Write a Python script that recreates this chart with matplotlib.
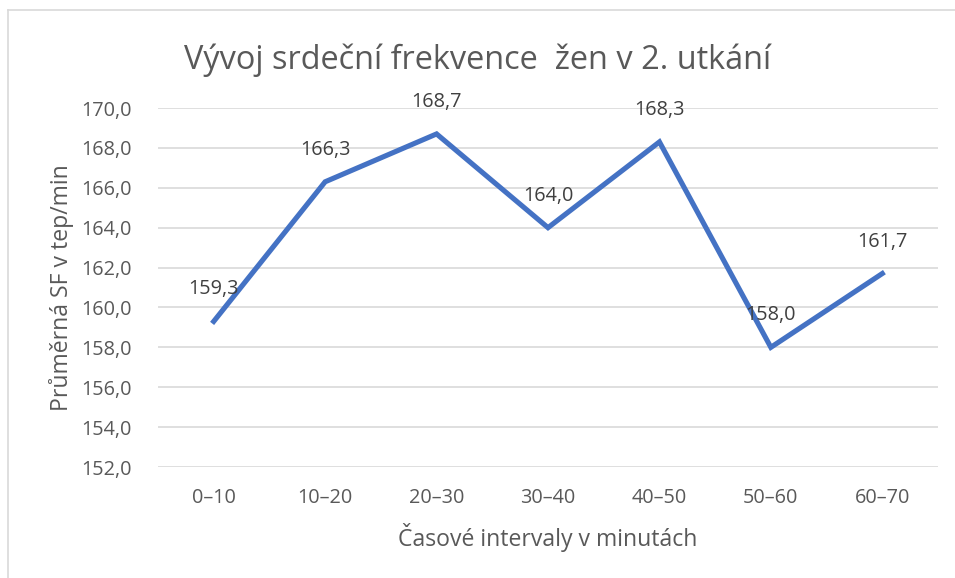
import numpy as np
import matplotlib
matplotlib.use("Agg")
from matplotlib import pyplot as plt
from matplotlib.lines import Line2D

# data
intervals = ["0–10", "10–20", "20–30", "30–40", "40–50", "50–60", "60–70"]
heartRate = [159.3, 166.3, 168.7, 164.0, 168.3, 158.0, 161.7]
yTicks = [152, 154, 156, 158, 160, 162, 164, 166, 168, 170]

plt.rcParams['font.family'] = ['Open Sans', 'DejaVu Sans']
textColor = '#595959'

fig = plt.figure(figsize=(9.55, 5.78), dpi=100)
ax = fig.add_axes([158/955, 1-467/578, (938-158)/955, (467-108)/578])

x = np.arange(len(intervals))
ax.plot(x, heartRate, color='#4472C4', linewidth=3.7, solid_joinstyle='miter', zorder=3)

for xi, v in zip(x, heartRate):
    ax.annotate(("%.1f" % v).replace('.', ','), (xi, v), xytext=(0, 32),
                textcoords='offset pixels', ha='center', va='center',
                fontsize=14.3, color='#404040', zorder=4)

ax.set_xlim(-0.5, len(intervals)-0.5)
ax.set_ylim(152, 170)
ax.set_yticks(yTicks)
ax.set_yticklabels([("%.1f" % t).replace('.', ',') for t in yTicks])
ax.set_xticks(x)
ax.set_xticklabels(intervals)
ax.tick_params(axis='both', length=0, labelsize=14.3, labelcolor=textColor)
ax.tick_params(axis='y', pad=19)
ax.tick_params(axis='x', pad=15)
ax.grid(axis='y', color='#D9D9D9', linewidth=1.2)
ax.set_axisbelow(True)
for s in ax.spines.values():
    s.set_visible(False)

ax.set_ylabel("Průměrná SF v tep/min", fontsize=16.6, color=textColor, labelpad=5)
ax.set_xlabel("Časové intervaly v minutách", fontsize=16.6, color=textColor, labelpad=11)
fig.text(0.5, 1-60/578, "Vývoj srdeční frekvence  žen v 2. utkání", ha='center', va='center',
         fontsize=23.4, color=textColor)

# chart border (left and top visible)
fig.add_artist(Line2D([7.5/955, 7.5/955], [0, 1-10/578], color='#D9D9D9', linewidth=1.2))
fig.add_artist(Line2D([7.5/955, 1], [1-10/578, 1-10/578], color='#D9D9D9', linewidth=1.2))

plt.savefig("out.png", dpi=100)
